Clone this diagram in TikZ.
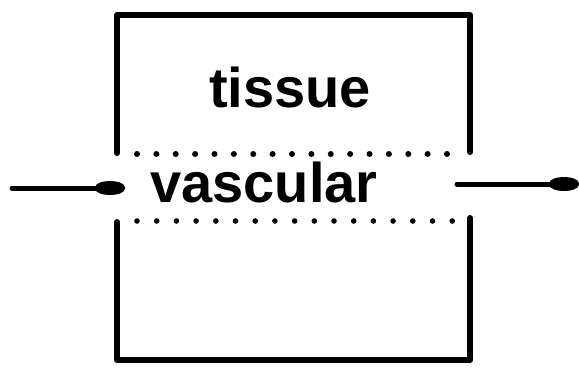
\documentclass[tikz,border=0pt]{standalone}
\usepackage{fontspec}
\setmainfont{Liberation Sans}
\usetikzlibrary{arrows.meta}
\begin{document}
\begin{tikzpicture}[x=1pt,y=-1pt,
  wall/.style={line width=6pt,line cap=round,line join=round},
  flow/.style={line width=5pt,line cap=round,-{Ellipse[length=30pt,width=14pt]}},
  label/.style={font=\fontsize{56}{60}\selectfont\bfseries,anchor=base,inner sep=0pt},
  dot/.style={fill=black}]
\useasboundingbox (0,0) rectangle (579,368);
% box corners
\coordinate (ul) at (117,153);
\coordinate (tl) at (117,15);
\coordinate (tr) at (470,15);
\coordinate (ur) at (470,152);
\coordinate (ll) at (117,222);
\coordinate (bl) at (117,360);
\coordinate (br) at (470,360);
\coordinate (lr) at (470,218);
\draw[wall] (ul) -- (tl) -- (tr) -- (ur);
\draw[wall] (ll) -- (bl) -- (br) -- (lr);
% dotted boundaries
\foreach \i in {0,...,16} \fill[dot] (137+\i*19.375,154) circle (3);
\foreach \i in {0,...,16} \fill[dot] (137+\i*19.7,221) circle (2.8);
% labels
\node[label] (tissue) at (290,107) {tissue};
\node[label] (vascular) at (264,202) {vascular};
% arrows
\coordinate (inS) at (12,188);
\coordinate (inE) at (125,188);
\coordinate (outS) at (457,184);
\coordinate (outE) at (579,184);
\draw[flow] (inS) -- (inE);
\draw[flow] (outS) -- (outE);
\end{tikzpicture}
\end{document}
